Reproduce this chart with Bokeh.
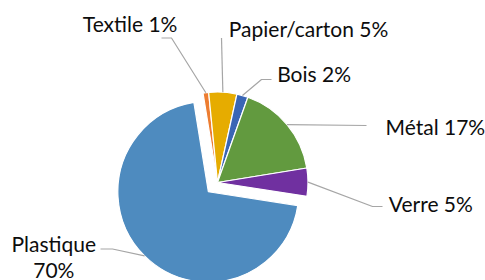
import math
from bokeh.plotting import figure
from bokeh.models import Range1d, ColumnDataSource
from bokeh.core.properties import value
from bokeh.embed import file_html
from bokeh.resources import INLINE

# ---- data ----
categories = ["Textile", "Papier/carton", "Bois", "Métal", "Verre", "Plastique"]
percent = [1, 5, 2, 17, 5, 70]
colors = ["#ED7D31", "#E6AC00", "#3A66B5", "#629A3F", "#7030A0", "#4E8BBF"]

# ---- layout (image pixel coordinates, y downward) ----
W, H = 485, 280
CX, CY, R = 217.0, 182.0, 90.5
START_DEG = -9.2            # clockwise from 12 o'clock, start of first slice
explode = {"Plastique": 13.0}
TEXT_DY = -8.5
LINE_GAP = 25.5
# label anchor: (x, baseline y, align)
label_pos = {
    "Textile": (82.3, 31.0, "left"),
    "Papier/carton": (228.3, 36.0, "left"),
    "Bois": (276.7, 81.7, "left"),
    "Métal": (385.0, 134.3, "left"),
    "Verre": (388.3, 211.7, "left"),
    "Plastique": (53.3, 251.7, "center"),
}
# leader line knee points (from label side), ending at slice edge
leader_pts = {
    "Textile": [(161, 37.5), (171, 37.5)],
    "Papier/carton": [(221, 37.5)],
    "Bois": [(271, 79), (261, 79)],
    "Métal": [(366, 125)],
    "Verre": [(382, 206), (372, 206)],
    "Plastique": [(100, 248.5), (112, 248.5)],
}

p = figure(width=W, height=H, output_backend="svg", toolbar_location=None,
           x_range=Range1d(0, W), y_range=Range1d(-H, 0), min_border=0)
p.axis.visible = False
p.grid.visible = False
p.outline_line_color = None
p.background_fill_color = "white"
p.border_fill_color = "white"

total = float(sum(percent))
xs, ys, sa, ea = [], [], [], []
mids = []
acc = START_DEG
for cat, v in zip(categories, percent):
    a = acc
    b = acc + 360.0 * v / total
    acc = b
    mid = (a + b) / 2.0
    off = explode.get(cat, 0.0)
    cx = CX + off * math.sin(math.radians(mid))
    cy = CY - off * math.cos(math.radians(mid))
    xs.append(cx)
    ys.append(-cy)
    sa.append(math.radians(90.0 - b))
    ea.append(math.radians(90.0 - a))
    mids.append((mid, cx, cy))

src = ColumnDataSource(dict(x=xs, y=ys, start=sa, end=ea, color=colors, cat=categories))
p.wedge(x="x", y="y", radius=R, start_angle="start", end_angle="end", source=src,
        fill_color="color", line_color="white", line_width=1.2, direction="anticlock")

# leader lines
for cat, (mid, cx, cy) in zip(categories, mids):
    ex = cx + R * math.sin(math.radians(mid))
    ey = cy - R * math.cos(math.radians(mid))
    pts = leader_pts[cat] + [(ex, ey)]
    p.line([q[0] for q in pts], [-q[1] for q in pts], line_color="#A6A6A6", line_width=1.2)

# labels
font = value("Lato")
fsize = value("21px")
for cat, v in zip(categories, percent):
    x, y, align = label_pos[cat]
    if cat == "Plastique":
        lines = [cat, f"{v}%"]
    else:
        lines = [f"{cat} {v}%"]
    for i, t in enumerate(lines):
        p.text(x=[x], y=[-(y + TEXT_DY + i * LINE_GAP)], text=[t], text_font=font,
               text_font_size=fsize, text_align=align, text_baseline="alphabetic",
               text_color="#0D0D0D")

open("out.html", "w").write(file_html(p, INLINE))
